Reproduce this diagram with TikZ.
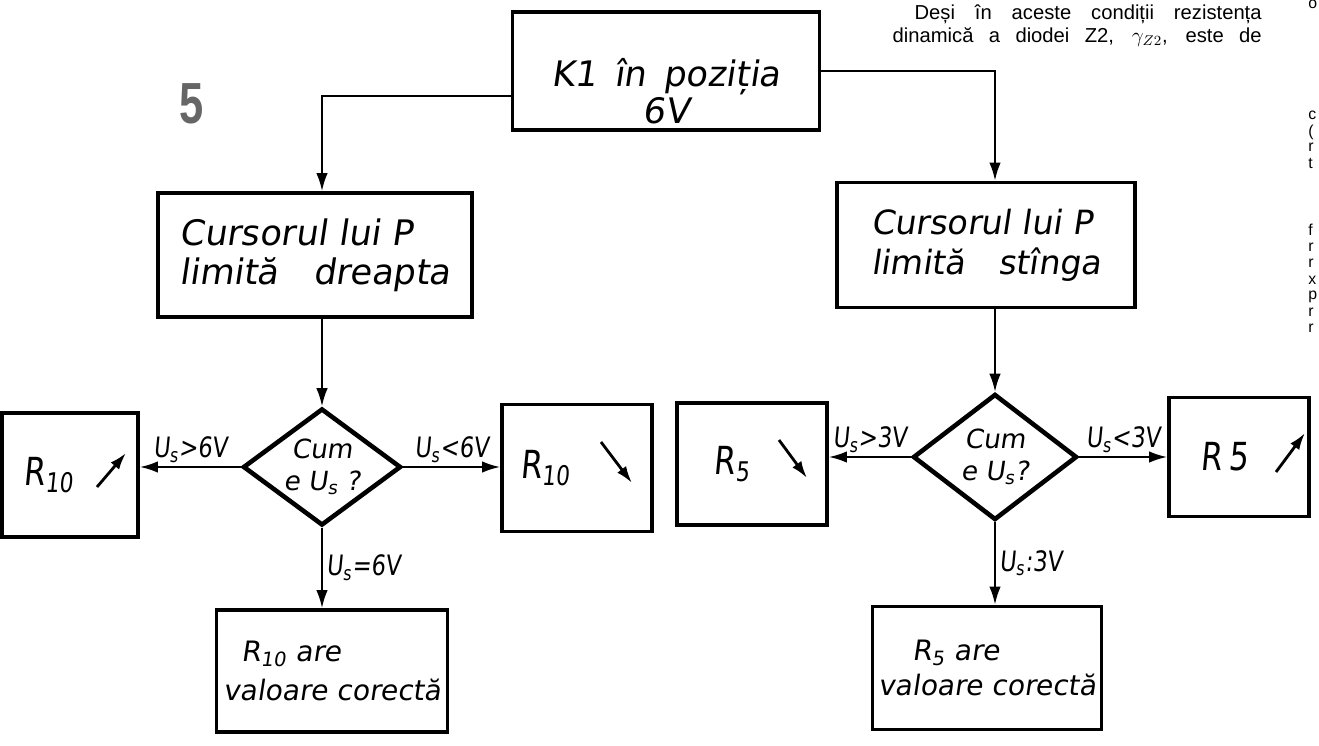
\documentclass[tikz,border=0pt]{standalone}
\usepackage{fontspec}
\setmainfont{Liberation Sans}
\newfontfamily\lettering[FakeSlant=0.15]{DejaVu Sans}
\newfontfamily\narrowlettering[FakeSlant=0.1,FakeStretch=0.8]{DejaVu Sans}
\newfontfamily\bignum[FakeStretch=0.75]{Liberation Sans}
\usetikzlibrary{shapes.geometric,arrows.meta}

\begin{document}
\begin{tikzpicture}[x=0.2mm, y=-0.2mm,
    block/.style={rectangle, draw=black, line width=2.2pt, inner sep=0pt, align=center},
    decision/.style={diamond, draw=black, line width=2.6pt, inner sep=0pt, aspect=1.35,
        align=center, font=\lettering\fontsize{15}{18}\selectfont},
    flow/.style={line width=1.1pt, -{Latex[length=3.6mm,width=2.3mm]}},
    trend/.style={line width=1.6pt, -{Latex[length=3.4mm,width=2.2mm]}},
    cond/.style={font=\narrowlettering\fontsize{16}{18}\selectfont, inner sep=2pt},
    rtext/.style={font=\narrowlettering\fontsize{22}{24}\selectfont}
]
    \useasboundingbox (0,0) rectangle (1319,746);

    % surrounding page text
    \node[anchor=east, inner sep=0pt, font=\fontsize{11.5}{14}\selectfont] (lineA) at (1262,14)
        {\makebox[69.4mm][s]{Deși în aceste condiții rezistența}};
    \node[anchor=east, inner sep=0pt, font=\fontsize{11.5}{14}\selectfont] (lineB) at (1262,37)
        {\makebox[73.8mm][s]{dinamică a diodei Z2, $\gamma_{Z2}$, este de}};
    \node[font=\bignum\bfseries\fontsize{33}{33}\selectfont, text=black!60] (fig) at (192,104) {5};
    \foreach \ch/\yy in {o/4, c/115, {(}/132, r/147, t/163, f/230, r/247, r/263, x/280, p/297, r/312, r/328}
        \node[anchor=west, inner sep=0pt, font=\fontsize{9}{10}\selectfont] at (1308,\yy) {\ch};

    % flowchart
    \node[block, minimum width=61.4mm, minimum height=23.6mm,
        font=\lettering\fontsize{20}{21}\selectfont] (k1) at (666,71) {\rule{0pt}{13.6mm}K1\, în\, poziția\\6V};
    \node[block, minimum width=62.8mm, minimum height=24.8mm, align=left,
        font=\lettering\fontsize{20}{22}\selectfont] (curL) at (315,255) {Cursorul lui P\\limită\quad dreapta};
    \node[block, minimum width=59.6mm, minimum height=25mm, align=left,
        font=\lettering\fontsize{19}{23}\selectfont] (curR) at (986,245) {Cursorul lui P\\limită\quad stînga};

    \node[decision, minimum width=31.6mm, minimum height=23.4mm] (dL) at (322,467) {Cum\\e U\textsubscript{s} ?};
    \node[decision, minimum width=32.8mm, minimum height=25.2mm] (dR) at (995,457) {Cum\\e U\textsubscript{s}?};

    \node[block, rtext, minimum width=27.2mm, minimum height=24.8mm] (rL) at (70,475) {R\textsubscript{10}\hspace{8.6mm}};
    \node[block, rtext, minimum width=30mm, minimum height=25.4mm] (rLR) at (577,468) {R\textsubscript{10}\hspace{12.8mm}};
    \node[block, rtext, minimum width=30mm, minimum height=24.4mm] (r5L) at (752,464) {R\textsubscript{5}\hspace{8mm}};
    \node[block, rtext, minimum width=28mm, minimum height=23.8mm] (r5R) at (1239,457) {R\,5\hspace{5.8mm}};

    \node[block, minimum width=46.2mm, minimum height=24.4mm, align=left,
        font=\lettering\fontsize{16}{22}\selectfont] (okL) at (332,671) {\hspace*{3.6mm}R\textsubscript{10} are\\valoare corectă};
    \node[block, minimum width=45.8mm, minimum height=24.6mm, align=left,
        font=\lettering\fontsize{16}{20}\selectfont] (okR) at (987,668) {\hspace*{6.8mm}R\textsubscript{5} are\\valoare corectă};

    \draw[trend] ([shift={(27,12)}]rL.center) -- ++(29,-34);
    \draw[trend] ([shift={(24,-26)}]rLR.center) -- ++(31,41);
    \draw[trend] ([shift={(27,-24)}]r5L.center) -- ++(28,38);
    \draw[trend] ([shift={(37,15)}]r5R.center) -- ++(29,-39);

    \draw[flow] ([yshift=-5mm]k1.west) -| (dL.north |- curL.north);
    \draw[flow] (k1.east) -| (dR.north |- curR.north);
    \draw[flow] (dL.north |- curL.south) -- (dL.north);
    \draw[flow] (dR.north |- curR.south) -- (dR.north);

    \draw[flow] (dL.west) -- (dL.west -| rL.east) node[cond, midway, above] {U\textsubscript{s}>6V};
    \draw[flow] (dL.east) -- (dL.east -| rLR.west) node[cond, midway, above] {U\textsubscript{s}<6V};
    \draw[flow] (dL.south) -- (dL.south |- okL.north) node[cond, midway, right] {U\textsubscript{s}=6V};
    \draw[flow] (dR.west) -- (dR.west -| r5L.east) node[cond, midway, above] {U\textsubscript{s}>3V};
    \draw[flow] (dR.east) -- (dR.east -| r5R.west) node[cond, midway, above] {U\textsubscript{s}<3V};
    \draw[flow] (dR.south) -- (dR.south |- okR.north) node[cond, midway, right] {U\textsubscript{s}:3V};
\end{tikzpicture}
\end{document}
